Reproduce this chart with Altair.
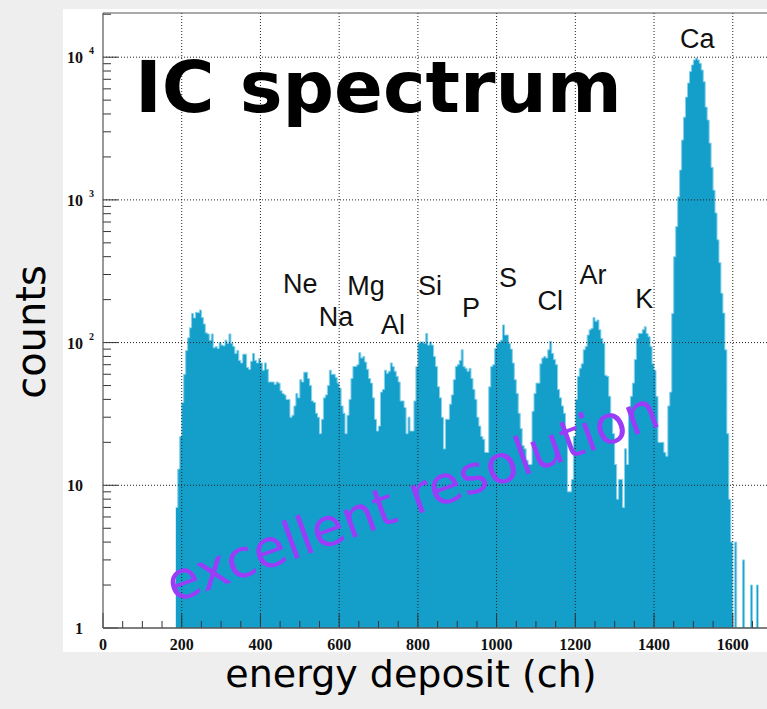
import altair as alt
import pandas as pd

# ---- spectrum: counts per 5-channel bin, first bin starts at channel 185 ----
BIN_START = 185
BIN_WIDTH = 5
counts = [
    7, 13, 22, 38, 60, 88, 108, 127, 160, 149,
    163, 162, 169, 150, 135, 117, 115, 104, 115, 92,
    94, 91, 100, 96, 95, 104, 99, 115, 99, 94,
    84, 88, 75, 72, 83, 83, 67, 65, 74, 84,
    75, 72, 77, 72, 64, 72, 65, 53, 53, 53,
    51, 53, 52, 46, 44, 43, 40, 40, 30, 31,
    36, 44, 41, 55, 53, 62, 62, 56, 50, 39,
    38, 32, 30, 23, 29, 41, 43, 50, 64, 60,
    60, 57, 52, 48, 36, 32, 23, 31, 40, 56,
    68, 68, 70, 85, 78, 80, 73, 65, 56, 52,
    41, 29, 24, 26, 45, 47, 64, 61, 63, 72,
    68, 63, 58, 53, 39, 39, 35, 23, 30, 24,
    24, 39, 68, 99, 101, 101, 99, 116, 96, 101,
    96, 80, 68, 49, 41, 30, 18, 29, 29, 37,
    43, 55, 68, 70, 75, 89, 68, 66, 63, 66,
    56, 47, 40, 30, 26, 22, 21, 17, 17, 49,
    68, 70, 91, 99, 101, 104, 133, 113, 113, 99,
    90, 72, 55, 44, 32, 25, 19, 18, 15, 14,
    14, 33, 44, 52, 52, 71, 78, 80, 78, 89,
    102, 84, 76, 70, 47, 41, 36, 32, 22, 9,
    9, 11, 22, 40, 58, 66, 71, 89, 94, 113,
    123, 126, 150, 141, 144, 123, 107, 99, 59, 58,
    42, 30, 23, 14, 8, 11, 11, 7, 18, 14,
    32, 42, 52, 76, 107, 116, 116, 123, 129, 116,
    110, 94, 71, 64, 42, 20, 20, 20, 17, 16,
    36, 45, 160, 400, 650, 1050, 1620, 2630, 3800, 5250,
    6590, 7940, 8820, 9570, 9870, 9570, 9060, 8130, 6730, 4470,
    3630, 2500, 1690, 1170, 810, 525, 363, 222, 161, 89,
    23, 8, 4, 0, 4, 0, 0, 0, 3, 0,
    0, 0, 2, 0, 0, 2,
]

# ---- peak labels (element, channel, counts at the label baseline) ----
elements = ["Ne", "Na", "Mg", "Al", "Si", "P", "S", "Cl", "Ar", "K", "Ca"]
elem_ch = [501, 592, 668, 737, 831, 935, 1029, 1136, 1245, 1375, 1510]
elem_cnt = [223, 131, 216, 115, 216, 151, 245, 169, 257, 175, 11600]

# ---- axis ticks and labels ----
x_major = [0, 200, 400, 600, 800, 1000, 1200, 1400, 1600]
x_minor = [v for v in range(50, 1700, 50) if v % 200]
y_major = [1, 10, 100, 1000, 10000]
y_main_text = ["1", "10", "10", "10", "10"]
y_sup_text = ["", "", "2", "3", "4"]
y_minor = [m * 10 ** d for d in range(4) for m in range(2, 10)] + [20000]

W, H = 664, 615
FILL = "#149fcb"
EDGE = "#86d0ea"
PURPLE = "#9b3cf8"

xs = alt.Scale(domain=[0, 1687], nice=False, zero=False)
ys = alt.Scale(type="log", domain=[1, 20400], nice=False)

bins = [BIN_START + BIN_WIDTH * i for i in range(len(counts))]
# step table: each bin start plus the closing edge of the last bin
hist_df = pd.DataFrame({"ch": bins + [bins[-1] + BIN_WIDTH],
                        "counts": counts + [counts[-1]]})
one = pd.DataFrame({"k": [0]})

# white panel behind plot and tick labels
panel = alt.Chart(one).mark_rect(color="white").encode(
    x=alt.value(-40), x2=alt.value(W + 5), y=alt.value(-4), y2=alt.value(639))

# empty bins sit on the axis (count 1 is the bottom of the log scale)
hist = alt.Chart(hist_df).transform_calculate(h="max(datum.counts, 1)")
area = hist.mark_area(interpolate="step-after", color=FILL, opacity=1).encode(
    x=alt.X("ch:Q", scale=xs, axis=None),
    y=alt.Y("h:Q", scale=ys, axis=None, stack=None),
    y2=alt.value(H))
edge = hist.mark_line(interpolate="step-after", color=EDGE, strokeWidth=1).encode(
    x=alt.X("ch:Q", scale=xs, axis=None),
    y=alt.Y("h:Q", scale=ys, axis=None))

grid_style = dict(color="#222222", strokeDash=[1, 2], strokeWidth=1)
vgrid = alt.Chart(pd.DataFrame({"ch": x_major[1:]})).mark_rule(**grid_style).encode(
    x=alt.X("ch:Q", scale=xs, axis=None), y=alt.value(0), y2=alt.value(H))
hgrid = alt.Chart(pd.DataFrame({"c": y_major[1:]})).mark_rule(**grid_style).encode(
    y=alt.Y("c:Q", scale=ys, axis=None), x=alt.value(0), x2=alt.value(W))

tick_color = "#333333"
xt_major = alt.Chart(pd.DataFrame({"ch": x_major})).mark_rule(color=tick_color).encode(
    x=alt.X("ch:Q", scale=xs, axis=None), y=alt.value(H), y2=alt.value(H - 15))
xt_minor = alt.Chart(pd.DataFrame({"ch": x_minor})).mark_rule(color=tick_color).encode(
    x=alt.X("ch:Q", scale=xs, axis=None), y=alt.value(H), y2=alt.value(H - 7))
yt_major = alt.Chart(pd.DataFrame({"c": y_major})).mark_rule(color=tick_color).encode(
    y=alt.Y("c:Q", scale=ys, axis=None), x=alt.value(0), x2=alt.value(15))
yt_minor = alt.Chart(pd.DataFrame({"c": y_minor})).mark_rule(color=tick_color).encode(
    y=alt.Y("c:Q", scale=ys, axis=None), x=alt.value(0), x2=alt.value(8))

frame_color = "#555555"
left = alt.Chart(one).mark_rule(color=frame_color, strokeWidth=1.2).encode(
    x=alt.value(0), y=alt.value(0), y2=alt.value(H))
top = alt.Chart(one).mark_rule(color=frame_color, strokeWidth=1.2).encode(
    y=alt.value(0), x=alt.value(0), x2=alt.value(W + 5))
bottom = alt.Chart(one).mark_rule(color=frame_color, strokeWidth=1.5).encode(
    y=alt.value(H), x=alt.value(0), x2=alt.value(W + 5))

# tick labels in ROOT style: bold serif, exponent raised
xlab = alt.Chart(pd.DataFrame({"ch": x_major, "t": [str(v) for v in x_major]})).mark_text(
    font="Liberation Serif", fontWeight="bold", fontSize=16, baseline="top",
    align="center", color="#111111").encode(
    x=alt.X("ch:Q", scale=xs, axis=None), y=alt.value(H + 9), text="t:N")
ylab_df = pd.DataFrame({"c": y_major, "m": y_main_text, "s": y_sup_text})
ylab = alt.Chart(ylab_df).mark_text(
    font="Liberation Serif", fontWeight="bold", fontSize=16, baseline="middle",
    align="right", color="#111111", dy=1).encode(
    y=alt.Y("c:Q", scale=ys, axis=None), x=alt.value(-20), text="m:N")
ysup = alt.Chart(ylab_df).mark_text(
    font="Liberation Serif", fontWeight="bold", fontSize=10, baseline="middle",
    align="left", color="#111111", dy=-6).encode(
    y=alt.Y("c:Q", scale=ys, axis=None), x=alt.value(-14), text="s:N")

# element names above their peaks
elab = alt.Chart(pd.DataFrame({"e": elements, "ch": elem_ch, "c": elem_cnt})).mark_text(
    font="Liberation Sans", fontSize=27, baseline="alphabetic", align="center",
    color="#111111").encode(
    x=alt.X("ch:Q", scale=xs, axis=None), y=alt.Y("c:Q", scale=ys, axis=None), text="e:N")

hand = "DejaVu Sans"
title = alt.Chart(one).mark_text(
    text="IC spectrum", font=hand, fontWeight="bold", fontSize=72,
    align="left", baseline="alphabetic", color="#000000").encode(
    x=alt.value(32), y=alt.value(99))
note = alt.Chart(one).mark_text(
    text="excellent resolution", font=hand, fontSize=53, angle=340,
    align="center", baseline="middle", color=PURPLE).encode(
    x=alt.value(310), y=alt.value(486))
xtitle = alt.Chart(one).mark_text(
    text="energy deposit (ch)", font=hand, fontSize=38,
    align="center", baseline="alphabetic", color="#000000").encode(
    x=alt.value(308), y=alt.value(674))
ytitle = alt.Chart(one).mark_text(
    text="counts", font=hand, fontSize=40, angle=270,
    align="center", baseline="alphabetic", color="#000000").encode(
    x=alt.value(-58), y=alt.value(319))

chart = alt.layer(
    panel, area, edge, vgrid, hgrid, xt_major, xt_minor, yt_major, yt_minor,
    left, top, bottom, xlab, ylab, ysup, elab, title, note, xtitle, ytitle,
).properties(
    width=W, height=H,
    padding={"left": 103, "top": 13, "right": 0, "bottom": 81},
    autosize=alt.AutoSizeParams(type="none"),
    background="#eeeeee",
).configure_view(stroke=None)

chart.save("out.html", embed_options={"renderer": "svg", "actions": False})
